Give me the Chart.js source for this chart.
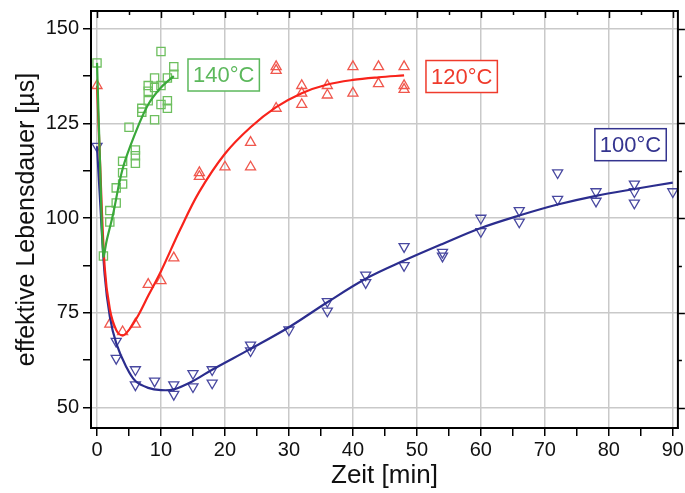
<!DOCTYPE html>
<html>
<head>
<meta charset="utf-8">
<script src="https://cdn.jsdelivr.net/npm/chart.js@4"></script>
<style>
  body { margin: 0; background: #fff; }
</style>
</head>
<body>
<canvas id="grafico" width="685" height="493"></canvas>
<script>
// Messwerte 140°C
const zeit140 = [0, 1, 2, 2, 3, 3, 4, 4, 4, 5, 6, 6, 6, 7, 7, 8, 8, 8, 9, 9, 9, 10, 10, 10, 11, 11, 11, 12, 12];
const tau140 = [141, 90, 102, 99, 104, 108, 109, 112, 115, 124, 118, 116.5, 114.5, 129, 128, 131, 135, 133.5, 137, 126, 134.5, 130, 135, 144, 131, 129, 137, 140, 138];

// Messwerte 120°C
const zeit120 = [0, 2, 4, 6, 8, 10, 12, 16, 16, 20, 24, 24, 28, 28, 28, 32, 32, 32, 36, 36, 40, 40, 44, 44, 48, 48, 48];
const tau120 = [135, 72, 70, 72, 82.5, 83.5, 89.5, 112, 111, 113.5, 113.5, 120, 129, 140, 139, 135, 133, 130, 135, 132.5, 140, 133, 140, 135.5, 140, 135, 134];

// Messwerte 100°C
const zeit100 = [0, 3, 3, 6, 6, 9, 12, 12, 15, 15, 18, 18, 24, 24, 30, 36, 36, 42, 42, 48, 48, 54, 54, 60, 60, 66, 66, 72, 72, 78, 78, 84, 84, 84, 90];
const tau100 = [119, 67.5, 63, 60, 56, 57, 56, 53.5, 59, 55.5, 60, 56.5, 66.5, 65, 70.5, 78, 75.5, 85, 83, 92.5, 87.5, 91, 90, 100, 96.5, 102, 99, 112, 105, 107, 104.5, 109, 107, 104, 107];

// Fitkurven
const fitZeit140 = [0, 0.5, 1, 1.5, 2.5, 4, 6, 8, 10, 12];
const fitTau140 = [141, 113, 90, 94, 101, 113, 122.5, 130, 134.5, 137.5];

const fitZeit120 = [0, 0.4, 1.2, 2, 3, 4, 5, 6.5, 8, 10, 13, 16, 20, 24, 28, 32, 36, 40, 44, 48];
const fitTau120 = [135, 118, 87, 76, 70.5, 69, 70.5, 74.5, 79.5, 86, 97, 107, 117, 124, 129.3, 133, 135.3, 136.5, 137.2, 137.7];

const fitZeit100 = [0, 0.4, 1.2, 2, 3, 4.5, 6, 8, 10, 12, 15, 18, 24, 30, 36, 42, 48, 54, 60, 66, 72, 78, 84, 90];
const fitTau100 = [119, 107, 85, 74, 67, 61, 57, 55.2, 54.6, 54.8, 57, 60, 65.5, 71.2, 77.8, 84, 88.8, 93.2, 97.4, 100.7, 103.6, 105.9, 107.7, 109.4];

// Achsen
const yTicks = [50, 62.5, 75, 87.5, 100, 112.5, 125, 137.5, 150];
const xTicks = [0, 5, 10, 15, 20, 25, 30, 35, 40, 45, 50, 55, 60, 65, 70, 75, 80, 85, 90];

// Beschriftungen der Kurven
const beschriftungen = [
  { text: '140°C', x: 19.8, y: 137.8, color: '#5cb85c' },
  { text: '120°C', x: 57.0, y: 137.4, color: '#ef3b2c' },
  { text: '100°C', x: 83.4, y: 119.4, color: '#34348f' }
];

const punkte = (xs, ys) => xs.map((x, i) => ({ x: x, y: ys[i] }));
const schrift = "'Liberation Sans', Arial, sans-serif";

// Rahmen + Ticks oben/rechts + Beschriftungen
const rahmen = {
  id: 'rahmen',
  afterDraw(chart) {
    const { ctx, chartArea: a, scales } = chart;
    ctx.save();
    ctx.strokeStyle = '#000';
    ctx.lineWidth = 2;
    ctx.strokeRect(a.left, a.top, a.right - a.left, a.bottom - a.top);
    ctx.lineWidth = 1.5;
    ctx.beginPath();
    xTicks.forEach(v => {
      const px = Math.round(scales.x.getPixelForValue(v)) + 0.5;
      ctx.moveTo(px, a.top);
      ctx.lineTo(px, a.top + (v % 10 === 0 ? 7 : 4));
    });
    yTicks.forEach(v => {
      const py = Math.round(scales.y.getPixelForValue(v)) + 0.5;
      ctx.moveTo(a.right, py);
      ctx.lineTo(a.right + (v % 25 === 0 ? 7 : 4), py);
    });
    ctx.stroke();

    ctx.font = '22px ' + schrift;
    ctx.textAlign = 'center';
    ctx.textBaseline = 'middle';
    beschriftungen.forEach(b => {
      const px = scales.x.getPixelForValue(b.x);
      const py = scales.y.getPixelForValue(b.y);
      const w = ctx.measureText(b.text).width + 10;
      const h = 32;
      ctx.fillStyle = '#fff';
      ctx.fillRect(px - w / 2, py - h / 2, w, h);
      ctx.strokeStyle = b.color;
      ctx.lineWidth = 1.5;
      ctx.strokeRect(px - w / 2, py - h / 2, w, h);
      ctx.fillStyle = b.color;
      ctx.fillText(b.text, px, py + 1);
    });
    ctx.restore();
  }
};

const ctx = document.getElementById('grafico').getContext('2d');
new Chart(ctx, {
  type: 'scatter',
  data: {
    datasets: [
      {
        label: '140°C Fit',
        data: punkte(fitZeit140, fitTau140),
        showLine: true,
        borderColor: '#3aa83a',
        borderWidth: 2.2,
        pointRadius: 0,
        tension: 0.35,
        order: 0
      },
      {
        label: '120°C Fit',
        data: punkte(fitZeit120, fitTau120),
        showLine: true,
        borderColor: '#f8231b',
        borderWidth: 2.2,
        pointRadius: 0,
        tension: 0.35,
        order: 0
      },
      {
        label: '100°C Fit',
        data: punkte(fitZeit100, fitTau100),
        showLine: true,
        borderColor: '#2b2d8e',
        borderWidth: 2.2,
        pointRadius: 0,
        tension: 0.35,
        order: 0
      },
      {
        label: '140°C',
        data: punkte(zeit140, tau140),
        pointStyle: 'rect',
        pointRadius: 5.8,
        borderColor: '#6dbf5e',
        backgroundColor: 'rgba(255,255,255,0)',
        borderWidth: 1.3,
        order: 1
      },
      {
        label: '120°C',
        data: punkte(zeit120, tau120),
        pointStyle: 'triangle',
        pointRadius: 5.8,
        borderColor: '#f0574d',
        backgroundColor: 'rgba(255,255,255,0)',
        borderWidth: 1.3,
        order: 1
      },
      {
        label: '100°C',
        data: punkte(zeit100, tau100),
        pointStyle: 'triangle',
        rotation: 180,
        pointRadius: 5.8,
        borderColor: '#4848a0',
        backgroundColor: 'rgba(255,255,255,0)',
        borderWidth: 1.3,
        order: 1
      }
    ]
  },
  options: {
    responsive: false,
    animation: false,
    devicePixelRatio: 1,
    layout: { padding: { top: 11, right: 7, left: 0, bottom: 0 } },
    scales: {
      x: {
        type: 'linear',
        min: -0.94,
        max: 90.8,
        afterBuildTicks: s => { s.ticks = xTicks.map(v => ({ value: v })); },
        afterFit: s => { s.height = 65; s.paddingLeft = 0; s.paddingRight = 0; },
        border: { display: true, color: '#000', width: 2 },
        grid: {
          color: c => (c.tick && c.tick.value % 10 === 0 ? '#c9c9c9' : 'rgba(0,0,0,0)'),
          lineWidth: 1.5,
          tickColor: '#000',
          tickLength: 8
        },
        ticks: {
          autoSkip: false,
          maxRotation: 0,
          padding: 2,
          color: '#111',
          font: { family: schrift, size: 20 },
          callback: v => (v % 10 === 0 ? v : '')
        },
        title: {
          display: true,
          text: 'Zeit [min]',
          color: '#111',
          font: { family: schrift, size: 26 },
          padding: { top: 0, bottom: 2 }
        }
      },
      y: {
        min: 44.6,
        max: 154.7,
        afterBuildTicks: s => { s.ticks = yTicks.map(v => ({ value: v })); },
        afterFit: s => { s.width = 91; s.paddingTop = 0; s.paddingBottom = 0; },
        border: { display: true, color: '#000', width: 2 },
        grid: {
          color: c => (c.tick && c.tick.value % 25 === 0 ? '#c9c9c9' : 'rgba(0,0,0,0)'),
          lineWidth: 1.5,
          tickColor: '#000',
          tickLength: 8
        },
        ticks: {
          autoSkip: false,
          padding: 4,
          color: '#111',
          font: { family: schrift, size: 20 },
          callback: v => (v % 25 === 0 ? v : '')
        },
        title: {
          display: true,
          text: 'effektive Lebensdauer [µs]',
          color: '#111',
          font: { family: schrift, size: 25 },
          padding: { top: 12, bottom: 0 }
        }
      }
    },
    plugins: {
      legend: { display: false },
      tooltip: { enabled: false }
    }
  },
  plugins: [rahmen]
});
</script>
</body>
</html>
